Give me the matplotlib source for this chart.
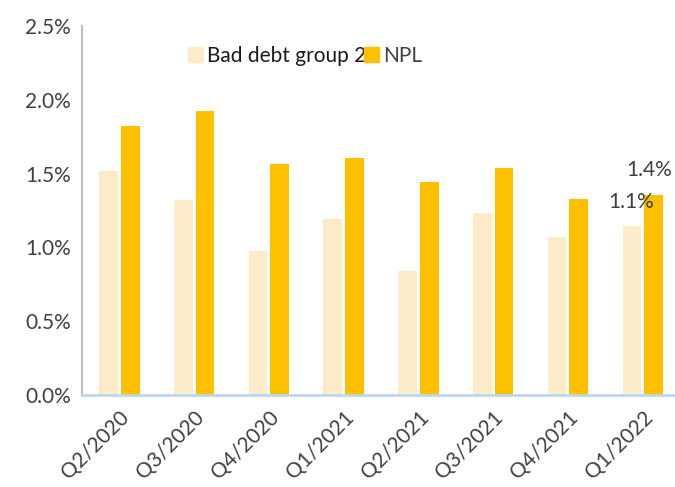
import numpy as np
import matplotlib.pyplot as plt
from matplotlib.patches import Patch
from matplotlib.ticker import FuncFormatter

quarters = ["Q2/2020", "Q3/2020", "Q4/2020", "Q1/2021",
            "Q2/2021", "Q3/2021", "Q4/2021", "Q1/2022"]
bad_debt_g2 = [1.52, 1.32, 0.975, 1.19, 0.84, 1.23, 1.07, 1.145]
npl = [1.82, 1.925, 1.565, 1.605, 1.445, 1.54, 1.33, 1.355]
last_labels = ["1.1%", "1.4%"]

LIGHT = "#FDEBC9"
GOLD = "#FFC000"
GREY_TXT = "#404040"
FS = 15

plt.rcParams['font.family'] = ['Lato', 'DejaVu Sans']

fig = plt.figure(figsize=(6.75, 4.87), dpi=100)
ax = fig.add_axes([0.1215, 0.189, 0.886, 0.7576])

x = np.arange(len(quarters))
w = 0.25
off = 0.145
ax.bar(x - off, bad_debt_g2, width=w, color=LIGHT, label="Bad debt group 2")
ax.bar(x + off, npl, width=w, color=GOLD, label="NPL")

# nhan so lieu cho quy cuoi
ax.text(x[-1] - 0.15, bad_debt_g2[-1] + 0.16, last_labels[0],
        ha='center', va='center', fontsize=FS, color=GREY_TXT)
ax.text(x[-1] + 0.09, npl[-1] + 0.17, last_labels[1],
        ha='center', va='center', fontsize=FS, color=GREY_TXT)

ax.set_xlim(-0.5, 7.5)
ax.set_ylim(0, 2.5)
ax.set_yticks(np.arange(0, 2.51, 0.5))
ax.yaxis.set_major_formatter(FuncFormatter(lambda v, p: f"{v:.1f}%"))
ax.set_xticks(x)
ax.set_xticklabels(quarters, rotation=45, ha='right', rotation_mode='anchor')

ax.tick_params(axis='both', length=0, labelsize=FS, labelcolor=GREY_TXT)
ax.tick_params(axis='y', pad=8)
ax.tick_params(axis='x', pad=9)

for s in ['top', 'right']:
    ax.spines[s].set_visible(False)
ax.spines['left'].set_color('#BFBFBF')
ax.spines['left'].set_linewidth(1.5)
ax.spines['bottom'].set_color('#BDD7EE')
ax.spines['bottom'].set_linewidth(2)

handles = [Patch(color=LIGHT, label="Bad debt group 2"),
           Patch(color=GOLD, label="NPL")]
leg = ax.legend(handles=handles, ncol=2, loc='center left',
                bbox_to_anchor=(0.178, 0.92), frameon=False, fontsize=FS,
                handlelength=0.7, handleheight=0.7, handletextpad=0.2,
                columnspacing=-0.1, borderpad=0.0, borderaxespad=0.0)
leg.get_texts()[0].set_color('#1a1a1a')
leg.get_texts()[1].set_color(GREY_TXT)

fig.savefig("out.png", dpi=100)
